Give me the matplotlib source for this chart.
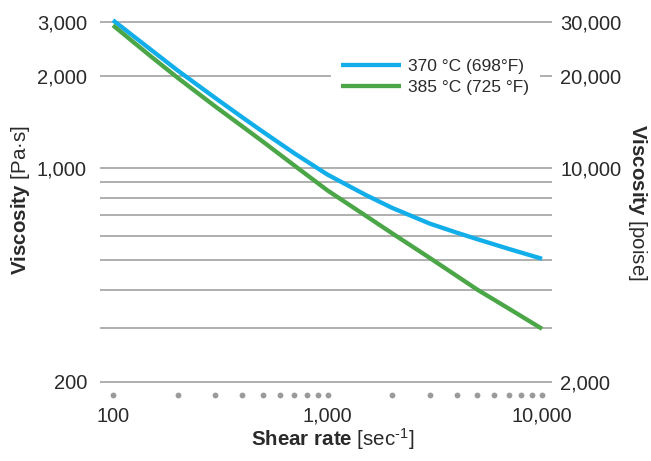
import matplotlib
matplotlib.use("Agg")
import matplotlib.pyplot as plt
from matplotlib.ticker import FixedLocator, NullLocator

# Datos (viscosidad en Pa·s vs. velocidad de corte en 1/s)
shear_rate = [100, 150, 200, 300, 400, 500, 700, 1000, 1500, 2000, 3000, 4000, 5000, 7000, 10000]
visc_370 = [3045, 2441, 2087, 1695, 1467, 1314, 1118, 952, 818, 741, 658, 615, 585, 544, 505]
visc_385 = [2930, 2321, 1975, 1590, 1370, 1220, 1020, 845, 700, 612, 508, 444, 400, 347, 298]
series_labels = ["370 °C (698°F)", "385 °C (725 °F)"]

# Líneas horizontales y etiquetas de los ejes
grid_pas = [200, 300, 400, 500, 600, 700, 800, 900, 1000, 2000, 3000]
left_labels = {200: "200", 1000: "1,000", 2000: "2,000", 3000: "3,000"}
right_ticks = [2000, 10000, 20000, 30000]
right_labels = ["2,000", "10,000", "20,000", "30,000"]
x_ticks = [100, 1000, 10000]
x_labels = ["100", "1,000", "10,000"]
x_dots = [100, 200, 300, 400, 500, 600, 700, 800, 900, 1000,
          2000, 3000, 4000, 5000, 6000, 7000, 8000, 9000, 10000]

plt.rcParams["font.family"] = ["Liberation Sans", "DejaVu Sans"]
plt.rcParams["mathtext.fontset"] = "custom"
plt.rcParams["mathtext.rm"] = "Liberation Sans"
plt.rcParams["mathtext.bf"] = "Liberation Sans:bold"
plt.rcParams["mathtext.it"] = "Liberation Sans:italic"

text_color = "#2a2a2a"
grid_color = "#9a9a9a"
blue = "#12aeea"
green = "#4aa646"

W, H = 651, 461
fig = plt.figure(figsize=(W / 100, H / 100), dpi=100)
ax = fig.add_axes([100 / W, 1 - 395 / H, 452 / W, 383 / H])

ax.set_xscale("log")
ax.set_yscale("log")
ax.set_xlim(87.0, 11130)
ax.set_ylim(181, 3240)

# Curvas
l1, = ax.plot(shear_rate, visc_370, color=blue, lw=3.1, solid_capstyle="butt", zorder=3)
l2, = ax.plot(shear_rate, visc_385, color=green, lw=3.1, solid_capstyle="butt", zorder=3)

# Rejilla horizontal
ax.yaxis.set_major_locator(FixedLocator(grid_pas))
ax.yaxis.set_minor_locator(NullLocator())
ax.set_yticklabels([left_labels.get(v, "") for v in grid_pas])
ax.grid(axis="y", color=grid_color, lw=1.1)
ax.set_axisbelow(True)

ax.xaxis.set_major_locator(FixedLocator(x_ticks))
ax.xaxis.set_minor_locator(NullLocator())
ax.set_xticklabels(x_labels)

ax.tick_params(axis="y", length=0, pad=9.4, labelsize=14.5, labelcolor=text_color)
ax.tick_params(axis="x", length=0, pad=8.5, labelsize=14.3, labelcolor=text_color)
for s in ax.spines.values():
    s.set_visible(False)

# Puntos grises sobre el eje x
ax.plot(x_dots, [0] * len(x_dots), "o", color=grid_color, ms=4.2, mec="none",
        transform=ax.get_xaxis_transform(), clip_on=False)

# Eje derecho en poise (1 Pa·s = 10 poise)
ax2 = ax.twinx()
ax2.set_yscale("log")
ax2.set_ylim(181 * 10, 3240 * 10)
ax2.yaxis.set_major_locator(FixedLocator(right_ticks))
ax2.yaxis.set_minor_locator(NullLocator())
ax2.set_yticklabels(right_labels)
ax2.tick_params(axis="y", length=0, pad=6.0, labelsize=14.5, labelcolor=text_color)
for s in ax2.spines.values():
    s.set_visible(False)

# Títulos de los ejes
fig.text(21 / W, 1 - 200 / H, r"$\mathbf{Viscosity}$ [Pa·s]", rotation=90,
         ha="center", va="center", fontsize=14.8, color=text_color)
fig.text(638 / W, 1 - 202 / H, r"$\mathbf{Viscosity}$ [poise]", rotation=270,
         ha="center", va="center", fontsize=14.8, color=text_color)
fig.text(333 / W, 1 - 439 / H, r"$\mathbf{Shear\ rate}$ [sec$^{\text{-}1}$]",
         ha="center", va="center", fontsize=14.8, color=text_color)

# Leyenda
leg = ax2.legend([l1, l2], series_labels, loc="center left",
                 bbox_to_anchor=(331 / W, 1 - 77 / H), bbox_transform=fig.transFigure,
                 borderaxespad=0, borderpad=0.6, handlelength=3.45, handletextpad=0.4,
                 labelspacing=0.3, fontsize=12.5, frameon=True, fancybox=False,
                 framealpha=1, facecolor="white", edgecolor="none")
for t in leg.get_texts():
    t.set_color(text_color)
for h in leg.get_lines():
    h.set_linewidth(3.1)

fig.savefig("out.png", dpi=100)
